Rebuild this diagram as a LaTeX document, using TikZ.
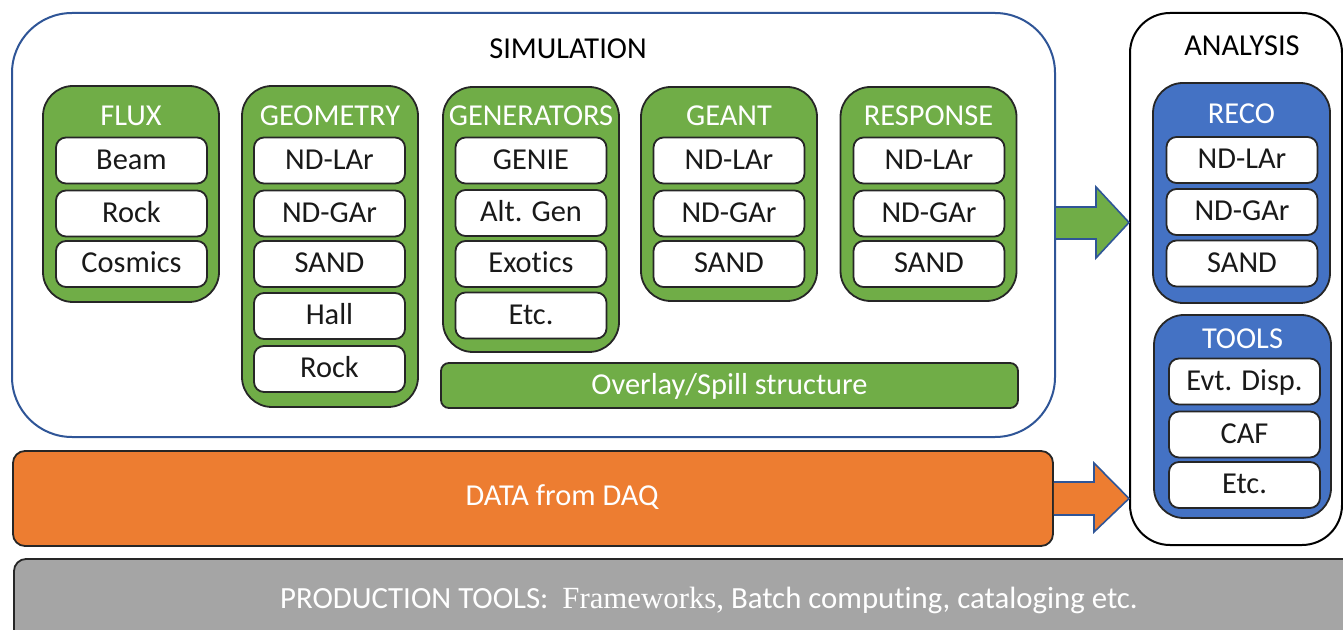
\documentclass[tikz,border=0pt]{standalone}
\usepackage{fontspec}
\setmainfont{Carlito}[Ligatures=NoCommon]
\newfontfamily\framefont{Liberation Serif}

\definecolor{simgreen}{HTML}{70AD47}
\definecolor{recoblue}{HTML}{4472C4}
\definecolor{daqorange}{HTML}{ED7D31}
\definecolor{prodgray}{HTML}{A5A5A5}
\definecolor{simline}{HTML}{2F5597}

\begin{document}
\begin{tikzpicture}[x=0.5pt,y=-0.5pt,
  every node/.style={font=\fontsize{15.2}{18}\selectfont,inner sep=0pt,text height=0.88em,text depth=0pt},
  grp/.style={draw=black!85,line width=0.9pt,rounded corners=15pt,minimum width=88pt},
  item/.style={draw=black!85,fill=white,line width=0.9pt,rounded corners=5pt,minimum width=75.5pt,minimum height=23pt,text=black!90},
  ttl/.style={text=white},
  fatarrow/.style={draw=simline,line width=0.8pt,line join=miter}]
  \useasboundingbox[fill=white] (0,0) rectangle (1343,630);

  % simulation
  \node[draw=simline,line width=1pt,rounded corners=30pt,minimum width=521.5pt,minimum height=212pt] (sim) at (533.5,225) {};
  \node (simttl) at (568,50) {SIMULATION};

  \node[grp,fill=simgreen,minimum height=108pt] (flux) at (131,194) {};
  \node[ttl] (fluxttl) at (131,117) {FLUX};
  \foreach \t/\y [count=\i] in {Beam/160.5,Rock/213.5,Cosmics/264}
    \node[item] (flux\i) at (131.5,\y) {\t};

  \node[grp,fill=simgreen,minimum height=160.5pt] (geom) at (330,246.5) {};
  \node[ttl] (geomttl) at (330,117) {GEOMETRY};
  \foreach \t/\y [count=\i] in {ND-LAr/160.5,ND-GAr/213.5,SAND/264,Hall/316,Rock/369}
    \node[item] (geom\i) at (329.5,\y) {\t};

  \node[grp,fill=simgreen,minimum height=132.5pt] (gen) at (531,219.5) {};
  \node[ttl] (genttl) at (531,117) {GENERATORS};
  \foreach \t/\y [count=\i] in {GENIE/160.5,Alt. Gen/213,Exotics/264,Etc./315.5}
    \node[item] (gen\i) at (531,\y) {\t};

  \node[grp,fill=simgreen,minimum height=107pt] (geant) at (729,194) {};
  \node[ttl] (geantttl) at (729,117) {GEANT};
  \foreach \t/\y [count=\i] in {ND-LAr/160.5,ND-GAr/213.5,SAND/264}
    \node[item] (geant\i) at (729,\y) {\t};

  \node[grp,fill=simgreen,minimum height=107pt] (resp) at (928.5,194) {};
  \node[ttl] (respttl) at (928.5,117) {RESPONSE};
  \foreach \t/\y [count=\i] in {ND-LAr/160.5,ND-GAr/213.5,SAND/264}
    \node[item] (resp\i) at (929,\y) {\t};

  \node[draw=black!85,fill=simgreen,line width=0.9pt,rounded corners=4pt,minimum width=288.5pt,minimum height=22.5pt,text=white] (spill) at (729.5,385.5) {Overlay/Spill structure};

  % analysis
  \node[draw=black,line width=1pt,rounded corners=20pt,minimum width=106pt,minimum height=266pt] (ana) at (1236,279) {};
  \node (anattl) at (1242,47) {ANALYSIS};

  \node[grp,fill=recoblue,minimum width=88.5pt,minimum height=110pt] (reco) at (1241.5,193) {};
  \node[ttl] (recottl) at (1241.5,115) {RECO};
  \foreach \t/\y [count=\i] in {ND-LAr/160,ND-GAr/212,SAND/263.5}
    \node[item] (reco\i) at (1242,\y) {\t};

  \node[grp,fill=recoblue,minimum width=88.5pt,minimum height=101.5pt] (tools) at (1242.5,416.5) {};
  \node[ttl] (toolsttl) at (1242.5,340) {TOOLS};
  \foreach \t/\y [count=\i] in {Evt. Disp./381.5,CAF/434.5,Etc./485}
    \node[item] (tools\i) at (1244.5,\y) {\t};

  % data and production
  \node[draw=black!85,fill=daqorange,line width=0.9pt,rounded corners=6pt,minimum width=520pt,minimum height=47.5pt] (daq) at (533,498.5) {};
  \node[ttl] (daqttl) at (562,497) {DATA from DAQ};

  \node[draw=black!85,fill=prodgray,line width=0.9pt,rounded corners=6pt,minimum width=673pt,minimum height=45.5pt] (prod) at (687,604.5) {};
  \node[ttl,font=\fontsize{15.4}{18}\selectfont] (prodttl) at (709,600) {PRODUCTION TOOLS:\ \ {\framefont Frameworks,} Batch computing,\ cataloging etc.};

  % arrows
  \draw[fatarrow,fill=simgreen] (sim.east |- 0,207) -- (1096,207) -- (1096,187) -- (ana.west |- 0,222.5)
    -- (1096,258) -- (1096,239) -- (sim.east |- 0,239);
  \draw[fatarrow,fill=daqorange] (daq.east |- 0,482) -- (1094,482) -- (1094,463) -- (ana.west |- 0,498.5)
    -- (1094,532) -- (1094,515) -- (daq.east |- 0,515);
\end{tikzpicture}
\end{document}
